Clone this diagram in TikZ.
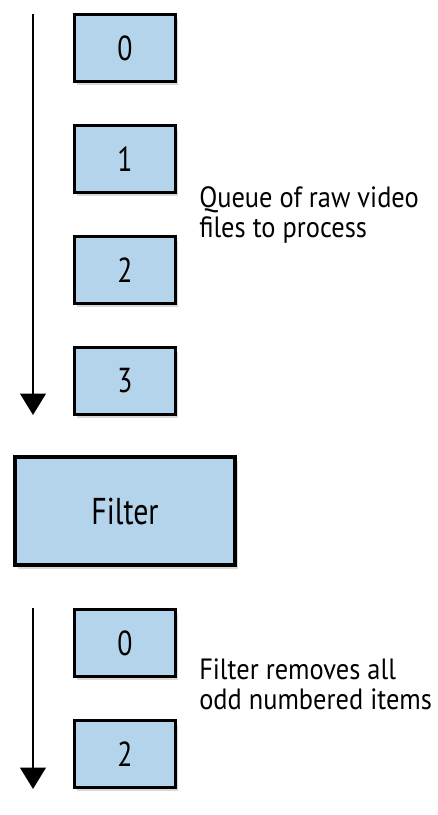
\documentclass[tikz,border=0pt]{standalone}
\usepackage{fontspec}
\setmainfont{PT Sans}[FakeStretch=0.9]
\newfontfamily\boxfont{PT Sans}[FakeStretch=0.8]
\usetikzlibrary{shadows,arrows.meta}
\definecolor{itemblue}{HTML}{B3D4EA}
\tikzset{
  item/.style={draw=black, line width=2.3pt, fill=itemblue,
    minimum width=76pt, minimum height=50pt, inner sep=0pt,
    font=\boxfont\fontsize{26}{28}\selectfont,
    drop shadow={shadow xshift=2pt, shadow yshift=-3pt, opacity=0.3}},
  stage/.style={item, minimum width=165pt, minimum height=81pt,
    font=\boxfont\fontsize{28}{30}\selectfont},
  note/.style={align=left, inner sep=0pt, font=\fontsize{22}{22.5}\selectfont},
  flow/.style={line width=2.2pt, -{Triangle[length=16pt, width=19pt]}}
}
\begin{document}
\begin{tikzpicture}[x=0.75pt, y=-0.75pt]
      \useasboundingbox (0,0) rectangle (438,815);
      % queue of raw files
      \node[item] (q0) at (125,48) {0};
      \node[item] (q1) at (125,159) {1};
      \node[item] (q2) at (125,270) {2};
      \node[item] (q3) at (125,381) {3};
      \node[note, anchor=west] (queuenote) at (199,215) {Queue of raw video\\files to process};
      % the filter
      \node[stage] (filter) at (125,511) {Filter};
      % what comes out
      \node[item] (f0) at (125,643) {0};
      \node[item] (f2) at (125,754) {2};
      \node[note, anchor=west] (filternote) at (199,684) {Filter removes all\\odd numbered items};
      \coordinate (qtop) at (33,14);
      \coordinate (qend) at (33,415);
      \coordinate (ftop) at (33,608);
      \coordinate (fend) at (33,789);
      \begin{scope}[flow]
        \draw (qtop) to (qend);
        \draw (ftop) to (fend);
      \end{scope}
    \end{tikzpicture}
\end{document}
